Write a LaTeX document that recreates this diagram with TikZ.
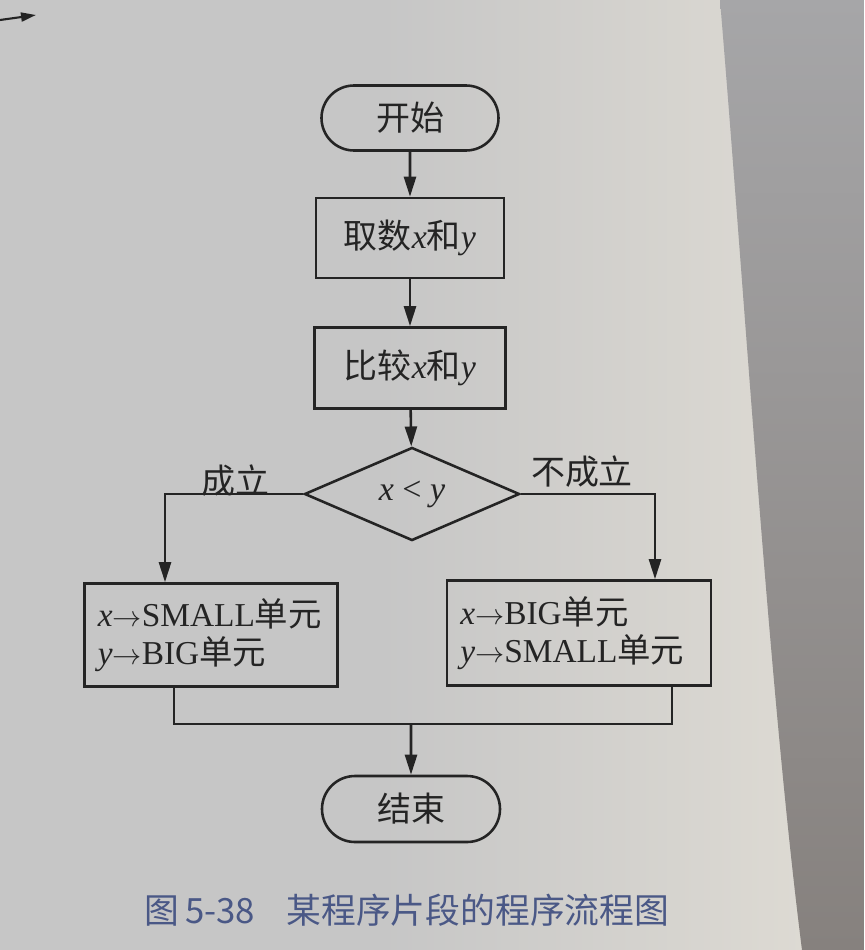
\documentclass[tikz,border=0pt]{standalone}
\usepackage{fontspec}
\setmainfont{Liberation Serif}
\newfontfamily\cjk{Noto Sans CJK SC}
\usetikzlibrary{shapes.misc,shapes.geometric,arrows.meta}
\definecolor{ink}{HTML}{242424}
\definecolor{pagegray}{HTML}{C6C6C6}
\definecolor{pagelight}{HTML}{DDDAD3}
\definecolor{shadowtop}{HTML}{A6A6A8}
\definecolor{shadowbot}{HTML}{86817E}
\definecolor{capblue}{HTML}{4A5886}
\begin{document}
\begin{tikzpicture}[x=0.03cm,y=-0.03cm]
\tikzset{
  base/.style={draw=ink, line width=2.2pt, font=\fontsize{29}{34}\selectfont, text=ink, inner sep=0pt},
  term/.style={base, rounded rectangle, minimum width=5.31cm, minimum height=1.95cm},
  proc/.style={base, rectangle, minimum width=5.7cm, minimum height=2.4cm},
  dec/.style={base, diamond, minimum width=6.45cm, minimum height=1.98cm},
  assign/.style={base, rectangle, align=left, inner xsep=0.4cm, font=\fontsize{28.5}{32}\selectfont},
  arr/.style={draw=ink, line width=2.2pt, -{Triangle[length=0.6cm,width=0.36cm]}},
  conn/.style={draw=ink, line width=2.2pt},
  lab/.style={font=\fontsize{29}{34}\selectfont, text=ink, inner sep=0pt},
}
% background (photographed page)
\useasboundingbox (0,0) rectangle (864,950);
\fill[pagegray] (0,0) rectangle (864,950);
\shade[left color=pagegray, right color=pagelight] (380,0) rectangle (805,950);
\shade[top color=shadowtop, bottom color=shadowbot] (720,0) .. controls (745,300) and (770,700) .. (802,950) -- (864,950) -- (864,0) -- cycle;
% stray mark top-left
\draw[ink, line width=1.8pt, -{Triangle[length=0.45cm,width=0.27cm]}] (0,20) -- (36,15);

% nodes
\node[term] (start) at (410,118) {\cjk 开始};
\node[proc, minimum width=5.64cm] (b1) at (410,238) {{\cjk 取数}\textit{x}{\cjk 和}\textit{y}};
\node[proc, minimum width=5.73cm, minimum height=2.43cm] (b2) at (410,368) {{\cjk 比较}\textit{x}{\cjk 和}\textit{y}};
\node[dec] (dia) at (412,494) {\textit{x} < \textit{y}};
\node[assign, minimum width=7.59cm, minimum height=3.09cm, text width=6.79cm] (lb) at (211,635)
  {\textit{x}$\rightarrow$SMALL{\cjk 单元}\\\textit{y}$\rightarrow$BIG{\cjk 单元}};
\node[assign, minimum width=7.92cm, minimum height=3.15cm, text width=7.12cm] (rb) at (579,633)
  {\textit{x}$\rightarrow$BIG{\cjk 单元}\\\textit{y}$\rightarrow$SMALL{\cjk 单元}};
\node[term, minimum width=5.34cm, minimum height=1.98cm] (stop) at (411,809) {\cjk 结束};

\node[lab] (yes) at (235,481) {\cjk 成立};
\node[lab] (no) at (582,472) {\cjk 不成立};

% connectors
\draw[arr] (start) -- (b1);
\draw[arr] (b1) -- (b2);
\draw[arr] (b2) -- (dia);
\draw[arr] (dia.west) -| ([xshift=-1.38cm]lb.north);
\draw[arr] (dia.east) -| ([xshift=2.28cm]rb.north);
\coordinate (m) at (411,724);
\draw[conn] ([xshift=-1.11cm]lb.south) |- (m) -| ([xshift=2.79cm]rb.south);
\draw[arr] (m) -- (stop);

% caption
\node[font=\fontsize{29.7}{34}\selectfont, text=capblue, inner sep=0pt] (cap) at (407,910)
  {\cjk 图\,5-38\hspace{0.9em}某程序片段的程序流程图};
\end{tikzpicture}
\end{document}
